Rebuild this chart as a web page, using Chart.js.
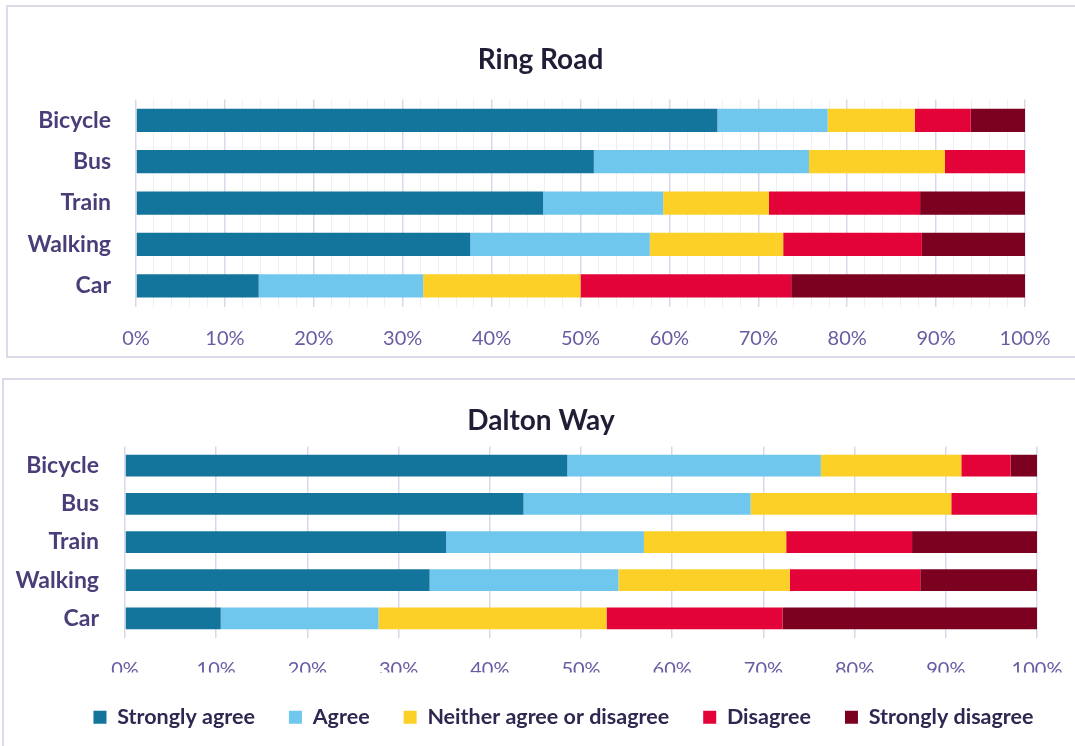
<!DOCTYPE html>
<html>
<head>
<meta charset="utf-8">
<script src="https://cdn.jsdelivr.net/npm/chart.js@4.4.1/dist/chart.umd.min.js"></script>
<style>
  body { margin: 0; background: #fff; width: 1075px; height: 746px; overflow: hidden; position: relative; }
  .caixa { position: absolute; border: 2px solid #DEDAEA; box-sizing: border-box; }
  .tela { position: absolute; left: 0; }
</style>
</head>
<body>
<div class="caixa" style="left:6px; top:5px; width:1100px; height:353px;"></div>
<div class="caixa" style="left:2px; top:378px; width:1100px; height:400px;"></div>
<div class="tela" style="top:0; width:1075px; height:360px;"><canvas id="graficoRing"></canvas></div>
<div class="tela" style="top:370px; width:1075px; height:376px;"><canvas id="graficoDalton"></canvas></div>
<script>
// Categorias e séries (percentuais)
const modos = ['Bicycle', 'Bus', 'Train', 'Walking', 'Car'];
const respostas = ['Strongly agree', 'Agree', 'Neither agree or disagree', 'Disagree', 'Strongly disagree'];
const coresRespostas = ['#13749C', '#70C7ED', '#FDD027', '#E30338', '#7C0020'];

// Ring Road
const ringForte = [65.4, 51.5, 45.8, 37.6, 13.8];
const ringConcorda = [12.4, 24.2, 13.5, 20.2, 18.5];
const ringNeutro = [9.8, 15.3, 11.9, 15.0, 17.7];
const ringDiscorda = [6.3, 9.0, 17.0, 15.6, 23.7];
const ringForteDiscorda = [6.1, 0, 11.8, 11.6, 26.3];

// Dalton Way
const daltonForte = [48.5, 43.7, 35.2, 33.4, 10.5];
const daltonConcorda = [27.8, 24.9, 21.7, 20.7, 17.3];
const daltonNeutro = [15.4, 22.0, 15.6, 18.8, 25.0];
const daltonDiscorda = [5.4, 9.4, 13.8, 14.3, 19.3];
const daltonForteDiscorda = [2.9, 0, 13.7, 12.8, 27.9];

const fonte = 'Lato, "Open Sans", sans-serif';

// Desloca título e legenda na horizontal (no original não ficam centrados na área do canvas)
const deslocarBlocos = {
  id: 'deslocarBlocos',
  afterLayout(chart, args, opts) {
    if (chart.titleBlock && opts.titulo) {
      chart.titleBlock.left += opts.titulo;
      chart.titleBlock.right += opts.titulo;
    }
    if (chart.legend && opts.legenda) {
      chart.legend.left += opts.legenda;
      chart.legend.right += opts.legenda;
    }
  }
};

function montarGrafico(id, titulo, series, cfg) {
  const ctx = document.getElementById(id).getContext('2d');
  new Chart(ctx, {
    type: 'bar',
    data: {
      labels: modos,
      datasets: series.map((valores, i) => ({
        label: respostas[i],
        data: valores,
        backgroundColor: coresRespostas[i],
        borderWidth: 0,
        barPercentage: cfg.barra,
        categoryPercentage: 1
      }))
    },
    plugins: [deslocarBlocos],
    options: {
      indexAxis: 'y',
      responsive: true,
      maintainAspectRatio: false,
      animation: false,
      layout: { padding: { left: 0, right: cfg.direita, top: cfg.topo, bottom: cfg.baixo } },
      plugins: {
        deslocarBlocos: { titulo: cfg.dxTitulo, legenda: cfg.dxLegenda },
        title: {
          display: true,
          text: titulo,
          color: '#221D36',
          font: { family: fonte, size: 28, weight: 'bold', lineHeight: 1.2 },
          padding: { top: 0, bottom: cfg.tituloBaixo }
        },
        legend: {
          display: cfg.legenda,
          position: 'bottom',
          labels: {
            boxWidth: 13, boxHeight: 13, padding: 34,
            color: '#302750',
            font: { family: fonte, size: 21.5, weight: 'bold' }
          }
        },
        tooltip: { enabled: false }
      },
      scales: {
        x: {
          stacked: true,
          min: 0, max: 100,
          afterFit: (eixo) => {
            eixo.height = cfg.alturaX;
            eixo.paddingLeft = 0;
            eixo.paddingRight = 0;
          },
          border: { display: false },
          grid: {
            drawTicks: false,
            lineWidth: (c) => (c.tick && c.tick.value % 10 === 0 ? 1.5 : 1),
            color: (c) => (c.tick && c.tick.value % 10 === 0 ? '#DCD7E8' : '#F0EDF5')
          },
          ticks: {
            stepSize: cfg.passo,
            autoSkip: false,
            maxRotation: 0,
            padding: cfg.padTicks,
            color: '#6A5BA2',
            font: { family: fonte, size: 20 },
            callback: (v) => (v % 10 === 0 ? v + '%' : '')
          }
        },
        y: {
          stacked: true,
          afterFit: (eixo) => { eixo.width = cfg.larguraY; },
          border: { display: false },
          grid: { display: false, drawTicks: false },
          ticks: {
            padding: cfg.padY,
            color: '#4A3D78',
            font: { family: fonte, size: 23, weight: 'bold' }
          }
        }
      }
    }
  });
}

montarGrafico('graficoRing', 'Ring Road',
  [ringForte, ringConcorda, ringNeutro, ringDiscorda, ringForteDiscorda],
  { barra: 0.56, direita: 50, topo: 43, baixo: 0, tituloBaixo: 23, alturaX: 53.5, passo: 2,
    padTicks: 20, larguraY: 136, padY: 25, legenda: false, dxTitulo: 28, dxLegenda: 0 });

montarGrafico('graficoDalton', 'Dalton Way',
  [daltonForte, daltonConcorda, daltonNeutro, daltonDiscorda, daltonForteDiscorda],
  { barra: 0.57, direita: 38, topo: 34, baixo: 8, tituloBaixo: 9, alturaX: 35, passo: 10,
    padTicks: 20, larguraY: 125, padY: 26, legenda: true, dxTitulo: 22.5, dxLegenda: 45 });
</script>
</body>
</html>
